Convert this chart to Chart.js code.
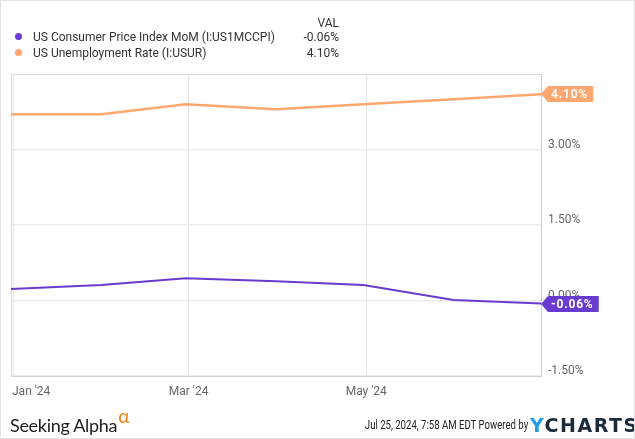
<!DOCTYPE html>
<html>
<head>
<meta charset="utf-8">
<script src="https://cdn.jsdelivr.net/npm/chart.js@4/dist/chart.umd.min.js"></script>
<style>
  html, body { margin: 0; padding: 0; background: #fff; }
  #wrap { position: relative; width: 635px; height: 439px; overflow: hidden; font-family: Roboto, "Noto Sans", sans-serif; }
  #frame { position: absolute; left: 0; top: 0; width: 633px; height: 437px; border: 1px solid #e2e2e2; pointer-events: none; }
  canvas { position: absolute; left: 0; top: 0; }
  .leg { position: absolute; font-size: 12px; color: #333; line-height: 16px; white-space: nowrap; }
  .dot { position: absolute; width: 7px; height: 7px; border-radius: 50%; }
  .val { position: absolute; font-size: 12px; color: #333; text-align: right; width: 60px; line-height: 16px; }
  #sa { position: absolute; left: 10px; top: 406px; font-family: Lato, "Open Sans", sans-serif; font-size: 18px; color: #1d1d1d; letter-spacing: -0.3px; }
  #sa sup { color: #f27e0c; font-size: 19px; position: relative; top: -2px; margin-left: 1px; }
  #stamp { position: absolute; right: 107px; top: 418px; font-family: Roboto, sans-serif; font-size: 12px; color: #222; white-space: nowrap; transform: scaleX(0.8); transform-origin: right center; }
  #yc { position: absolute; left: 530px; top: 414px; font-family: "DejaVu Sans", sans-serif; font-weight: bold; font-size: 19px; color: #1c2a3a; letter-spacing: 1.5px; white-space: nowrap; }
  #yc span { color: #1e9be9; }
</style>
</head>
<body>
<div id="wrap">
  <canvas id="c" width="635" height="439"></canvas>
  <div class="val" style="left:279px; top:15px;">VAL</div>
  <div class="dot" style="left:15px; top:33px; background:#6a3bcf;"></div>
  <div class="leg" style="left:33px; top:29px;">US Consumer Price Index MoM (I:US1MCCPI)</div>
  <div class="val" style="left:279px; top:29px;">-0.06%</div>
  <div class="dot" style="left:15px; top:49px; background:#ffa76f;"></div>
  <div class="leg" style="left:33px; top:45px;">US Unemployment Rate (I:USUR)</div>
  <div class="val" style="left:279px; top:45px;">4.10%</div>
  <div id="sa">Seeking Alpha<sup>α</sup></div>
  <div id="stamp">Jul 25, 2024, 7:58 AM EDT Powered by</div>
  <div id="yc"><span>Y</span>CHARTS</div>
  <div id="frame"></div>
</div>
<script>
// ---- data ----
const dates = ['2023-12-31','2024-01-31','2024-02-29','2024-03-31','2024-04-30','2024-05-31','2024-06-30'];
const cpiMoM = [0.23, 0.31, 0.44, 0.38, 0.31, 0.01, -0.06];
const unemploymentRate = [3.7, 3.7, 3.9, 3.8, 3.9, 4.0, 4.1];
const xTickDates = ['2024-01-01', '2024-03-01', '2024-05-01'];
const xTickLabels = ["Jan '24", "Mar '24", "May '24"];
const yTickValues = [-1.5, 0, 1.5, 3.0];
const seriesNames = ['US Consumer Price Index MoM (I:US1MCCPI)', 'US Unemployment Rate (I:USUR)'];
const seriesColors = ['#6a3bcf', '#ffa76f'];

const day = s => Date.parse(s + 'T00:00:00Z') / 864e5;
const fmt = v => v.toFixed(2) + '%';

const frame = {
  id: 'frame',
  beforeDatasetsDraw(chart) {
    const a = chart.chartArea, ctx = chart.ctx;
    ctx.save();
    ctx.strokeStyle = '#dcdcdc';
    ctx.lineWidth = 1;
    ctx.beginPath();
    ctx.moveTo(a.left + 0.5, a.bottom);
    ctx.lineTo(a.left + 0.5, a.top + 0.5);
    ctx.lineTo(a.right, a.top + 0.5);
    ctx.stroke();
    ctx.restore();
  }
};

const xLabels = {
  id: 'xLabels',
  afterDraw(chart) {
    const xs = chart.scales.x, a = chart.chartArea, ctx = chart.ctx;
    ctx.save();
    ctx.font = '12px Roboto, sans-serif';
    ctx.fillStyle = '#666';
    ctx.textBaseline = 'middle';
    xTickDates.forEach((d, i) => {
      const px = xs.getPixelForValue(day(d));
      const w = ctx.measureText(xTickLabels[i]).width;
      let left = px - w / 2;
      if (left < a.left + 1) left = a.left + 1;
      ctx.textAlign = 'left';
      ctx.fillText(xTickLabels[i], left, 392);
    });
    ctx.restore();
  }
};

const badges = {
  id: 'badges',
  afterDraw(chart) {
    const ys = chart.scales.y, a = chart.chartArea, ctx = chart.ctx;
    ctx.save();
    ctx.font = 'bold 12px Roboto, sans-serif';
    chart.data.datasets.forEach((ds) => {
      const last = ds.data[ds.data.length - 1].y;
      const y = Math.round(ys.getPixelForValue(last));
      const txt = fmt(last);
      const tw = ctx.measureText(txt).width + 0.8 * (txt.length - 1);
      const x0 = a.right;
      const w = tw + 16;
      const h = 8;
      ctx.fillStyle = ds.borderColor;
      ctx.beginPath();
      ctx.moveTo(x0, y);
      ctx.lineTo(x0 + 7, y - h);
      ctx.lineTo(x0 + w, y - h);
      ctx.lineTo(x0 + w, y + h);
      ctx.lineTo(x0 + 7, y + h);
      ctx.closePath();
      ctx.fill();
      ctx.fillStyle = '#fff';
      ctx.textBaseline = 'middle';
      ctx.textAlign = 'left';
      let x = x0 + 10;
      for (const ch of txt) {
        ctx.fillText(ch, x, y + 0.5);
        x += ctx.measureText(ch).width + 0.8;
      }
    });
    ctx.restore();
  }
};

new Chart(document.getElementById('c'), {
  type: 'line',
  data: {
    datasets: [
      { label: seriesNames[0], data: dates.map((d, i) => ({ x: day(d), y: cpiMoM[i] })), borderColor: seriesColors[0], borderWidth: 2, pointRadius: 0, tension: 0 },
      { label: seriesNames[1], data: dates.map((d, i) => ({ x: day(d), y: unemploymentRate[i] })), borderColor: seriesColors[1], borderWidth: 2.5, pointRadius: 0, tension: 0 }
    ]
  },
  options: {
    responsive: false,
    animation: false,
    devicePixelRatio: 1,
    layout: { padding: { left: 11, top: 74, right: 0, bottom: 0 } },
    plugins: { legend: { display: false }, tooltip: { enabled: false } },
    scales: {
      x: {
        type: 'linear',
        min: day(dates[0]),
        max: day(dates[dates.length - 1]),
        afterBuildTicks: s => { s.ticks = xTickDates.map(d => ({ value: day(d) })); },
        afterFit: s => { s.height = 63; },
        ticks: { display: false },
        grid: { color: '#e4e4e4', lineWidth: 1, drawTicks: false },
        border: { display: true, color: '#cfcfcf', width: 1 }
      },
      y: {
        position: 'right',
        min: -1.5,
        max: 4.5,
        afterBuildTicks: s => { s.ticks = yTickValues.map(v => ({ value: v })); },
        afterFit: s => { s.width = 94; },
        ticks: {
          callback: v => fmt(v),
          color: '#666',
          font: { family: 'Roboto', size: 12 },
          padding: 7,
          labelOffset: -5
        },
        grid: { color: '#ededed', lineWidth: 1.5, drawTicks: false },
        border: { display: true, color: '#cfcfcf', width: 1 }
      }
    }
  },
  plugins: [frame, xLabels, badges]
});
</script>
</body>
</html>
